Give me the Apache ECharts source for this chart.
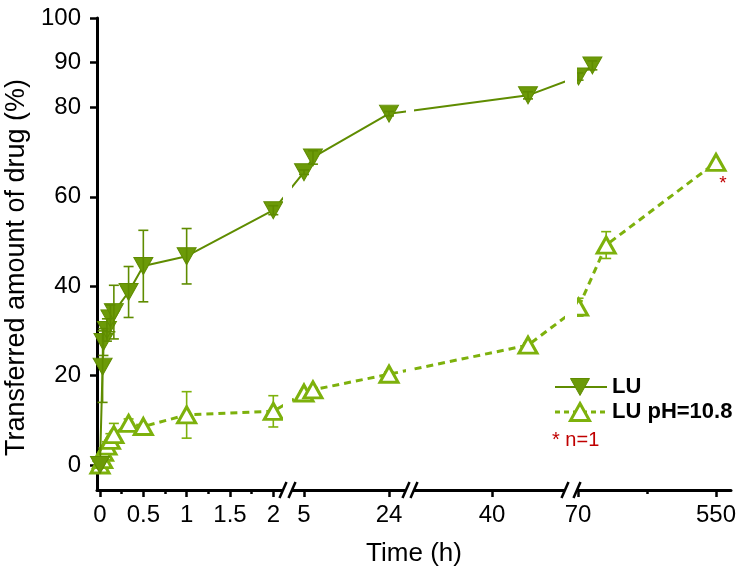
<!DOCTYPE html>
<html>
<head>
<meta charset="utf-8">
<script src="https://cdn.jsdelivr.net/npm/echarts@6/dist/echarts.min.js"></script>
<style>
  html, body { margin: 0; background: #fff; }
  #chart-container { width: 742px; height: 577px; }
</style>
</head>
<body>
<div id="chart-container"></div>
<script>
// data (time in hours, transferred amount in %)
var luTime = [0, 0.03, 0.04, 0.08, 0.12, 0.16, 0.33, 0.5, 1, 2, 5, 7, 24, 48, 72, 120];
var luValue = [0, 22, 27.5, 30.2, 32.8, 34.2, 38.7, 44.5, 46.7, 57, 65.5, 68.8, 78.6, 82.7, 86.9, 89.4];
var luError = [0, 8, 3, 2.5, 3, 6, 5.7, 8, 6.2, 1, 0.5, 1.5, 0.5, 0.8, 0.8, 1];

var phTime = [0, 0.03, 0.04, 0.08, 0.12, 0.16, 0.33, 0.5, 1, 2, 5, 7, 24, 48, 72, 168, 550];
var phValue = [0, 1.2, 2.8, 4.2, 5.5, 6.8, 9.3, 8.6, 11.2, 12, 16.1, 16.8, 20.3, 26.8, 35.3, 49.2, 67.7];
var phError = [0, 0.5, 1, 1, 1.5, 2.5, 1, 0.5, 5.2, 3.5, 0.5, 0.5, 0.5, 0.5, 2, 3, 0];
var phNote = ["", "", "", "", "", "", "", "", "", "", "", "", "", "", "", "", "*"];

var xTickTimes = [0, 0.5, 1, 1.5, 2, 5, 24, 40, 70, 550];
var xMinorTimes = [0.25, 0.75, 1.25, 1.75, 310];
var yTickValues = [0, 20, 40, 60, 80, 90, 100];

// broken time axis: each piece is linear, placed on a 0..634 position axis
var xSegments = [
  { t: [0, 2], pos: [3, 176.3], range: [0, 186] },
  { t: [5, 24], pos: [207, 292], range: [195, 309] },
  { t: [40, 48], pos: [395, 431], range: [317, 468] },
  { t: [70, 550], pos: [481, 619], range: [480, 634] },
];

function segPos(seg, t) {
  return seg.pos[0] + ((t - seg.t[0]) * (seg.pos[1] - seg.pos[0])) / (seg.t[1] - seg.t[0]);
}
function segTime(seg, p) {
  return seg.t[0] + ((p - seg.pos[0]) * (seg.t[1] - seg.t[0])) / (seg.pos[1] - seg.pos[0]);
}
function toPos(t) {
  for (var i = 0; i < xSegments.length; i++) {
    if (t <= segTime(xSegments[i], xSegments[i].range[1])) return segPos(xSegments[i], t);
  }
  return segPos(xSegments[xSegments.length - 1], t);
}

var xTickPos = xTickTimes.map(toPos);
var xMinorPos = xMinorTimes.map(toPos);

var luColor = "#5f8c00";
var luFill = "#6c9a08";
var phColor = "#7db10c";
var font = "'Liberation Sans', Arial, sans-serif";
var yMin = -5.6;

function errorSeries(name, times, values, errors, color, z) {
  var data = [];
  times.forEach(function (t, i) {
    if (errors[i] > 0) data.push([toPos(t), values[i], errors[i]]);
  });
  return {
    name: name,
    type: "custom",
    z: z,
    data: data,
    renderItem: function (params, api) {
      var x = api.value(0), y = api.value(1), e = api.value(2);
      var hi = api.coord([x, y + e]);
      var lo = api.coord([x, y - e]);
      var st = { stroke: color, lineWidth: 1.6 };
      return {
        type: "group",
        children: [
          { type: "line", shape: { x1: hi[0], y1: hi[1], x2: lo[0], y2: lo[1] }, style: st },
          { type: "line", shape: { x1: hi[0] - 5, y1: hi[1], x2: hi[0] + 5, y2: hi[1] }, style: st },
          { type: "line", shape: { x1: lo[0] - 5, y1: lo[1], x2: lo[0] + 5, y2: lo[1] }, style: st },
        ],
      };
    },
  };
}

var luData = luTime.map(function (t, i) { return [toPos(t), luValue[i]]; });
var phData = phTime.map(function (t, i) {
  var item = { value: [toPos(t), phValue[i]] };
  if (phNote[i]) {
    item.label = {
      show: true, formatter: phNote[i], position: "bottom", offset: [7, -3],
      color: "#c00000", fontSize: 19, fontFamily: font,
    };
  }
  return item;
});

var dom = document.getElementById("chart-container");
var myChart = echarts.init(dom, null, { renderer: "canvas" });

var axisName = { color: "#000", fontSize: 26, fontFamily: font };

var option = {
  animation: false,
  backgroundColor: "#fff",
  grid: { left: 97, right: 11, top: 18, bottom: 87, containLabel: false, outerBoundsMode: "none" },
  xAxis: [
    {
      type: "value",
      min: 0,
      max: 634,
      name: "Time (h)",
      nameLocation: "middle",
      nameGap: 51,
      nameTextStyle: axisName,
      splitLine: { show: false },
      axisLine: { onZero: false, lineStyle: { color: "#000", width: 3 } },
      axisTick: { customValues: xTickPos, length: 7, lineStyle: { width: 2.5, color: "#000" } },
      axisLabel: {
        customValues: xTickPos,
        margin: 13,
        color: "#000",
        fontSize: 24,
        fontFamily: font,
        formatter: function (v) {
          for (var i = 0; i < xTickPos.length; i++) {
            if (Math.abs(xTickPos[i] - v) < 1e-6) return String(xTickTimes[i]);
          }
          return "";
        },
      },
    },
    {
      type: "value",
      min: 0,
      max: 634,
      position: "bottom",
      offset: 0,
      splitLine: { show: false },
      axisLine: { show: false, onZero: false },
      axisTick: { customValues: xMinorPos, length: 4, lineStyle: { width: 2.5, color: "#000" } },
      axisLabel: { show: false },
    },
  ],
  yAxis: {
    type: "value",
    min: yMin,
    max: 100,
    name: "Transferred amount of drug (%)",
    nameLocation: "middle",
    nameGap: 64,
    nameTextStyle: Object.assign({ padding: [0, 27, 0, 0] }, axisName, { fontSize: 27 }),
    splitLine: { show: false },
    axisLine: { show: true, onZero: false, lineStyle: { color: "#000", width: 3 } },
    axisTick: { show: true, customValues: yTickValues, length: 7, lineStyle: { width: 2.5, color: "#000" } },
    axisLabel: { customValues: yTickValues, margin: 16, color: "#000", fontSize: 24, fontFamily: font },
  },
  series: [
    errorSeries("LU pH=10.8 err", phTime, phValue, phError, phColor, 1),
    {
      name: "LU pH=10.8",
      type: "line",
      z: 2,
      data: phData,
      symbol: "triangle",
      symbolSize: [18, 16],
      lineStyle: { color: phColor, width: 3, type: [7, 5] },
      itemStyle: { color: "#fff", borderColor: phColor, borderWidth: 3 },
    },
    {
      name: "LU",
      type: "line",
      z: 3,
      data: luData,
      symbol: "triangle",
      symbolRotate: 180,
      symbolSize: [19, 17],
      lineStyle: { color: luColor, width: 2 },
      itemStyle: { color: luFill, borderColor: luColor, borderWidth: 1 },
    },
    errorSeries("LU err", luTime, luValue, luError, luColor, 4),
  ],
};

myChart.setOption(option);

// white gaps and "//" marks where the time axis is broken
var axisY = myChart.convertToPixel({ yAxisIndex: 0 }, yMin);
var topY = myChart.convertToPixel({ yAxisIndex: 0 }, 100);
var graphics = [];
for (var i = 0; i < xSegments.length - 1; i++) {
  var xa = myChart.convertToPixel({ xAxisIndex: 0 }, xSegments[i].range[1]);
  var xb = myChart.convertToPixel({ xAxisIndex: 0 }, xSegments[i + 1].range[0]);
  graphics.push({
    type: "rect", z: 100,
    shape: { x: xa, y: topY - 10, width: xb - xa, height: axisY + 2.5 - topY + 10 },
    style: { fill: "#fff" },
  });
  [xa, xb].forEach(function (cx) {
    graphics.push({
      type: "line", z: 101,
      shape: { x1: cx - 3.5, y1: axisY + 8, x2: cx + 3.5, y2: axisY - 8 },
      style: { stroke: "#000", lineWidth: 2.5 },
    });
  });
}

// legend, drawn by hand so the line runs through the marker
var legendItems = [
  { name: "LU", y: 387, down: true, stroke: luColor, fill: luFill, dash: null, width: 2 },
  { name: "LU pH=10.8", y: 412, down: false, stroke: phColor, fill: "#fff", dash: [5, 4], width: 3 },
];
legendItems.forEach(function (it) {
  var cx = 580, w = 19, h = 17;
  graphics.push({
    type: "line", z: 101,
    shape: { x1: 555, y1: it.y, x2: 607, y2: it.y },
    style: { stroke: it.stroke, lineWidth: it.width, lineDash: it.dash },
  });
  var pts = it.down
    ? [[cx - w / 2, it.y - h / 2], [cx + w / 2, it.y - h / 2], [cx, it.y + h / 2]]
    : [[cx, it.y - h / 2], [cx + w / 2, it.y + h / 2], [cx - w / 2, it.y + h / 2]];
  graphics.push({
    type: "polygon", z: 102,
    shape: { points: pts },
    style: { fill: it.fill, stroke: it.stroke, lineWidth: it.down ? 1 : 3, lineJoin: "miter" },
  });
  graphics.push({
    type: "text", z: 102, x: 612, y: it.y,
    style: {
      text: it.name, fill: "#000", fontSize: 22, fontWeight: "bold", fontFamily: font,
      verticalAlign: "middle",
    },
  });
});

graphics.push({
  type: "text", z: 101, left: 552, top: 430,
  style: { text: "* n=1", fill: "#c00000", fontSize: 20, fontFamily: font },
});
myChart.setOption({ graphic: graphics });

window.addEventListener("resize", myChart.resize);
</script>
</body>
</html>
